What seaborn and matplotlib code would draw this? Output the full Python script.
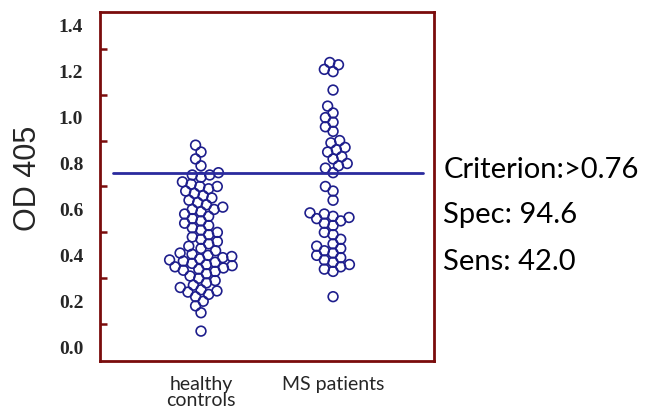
import pandas as pd
import numpy as np
import seaborn as sns
import matplotlib.pyplot as plt
from matplotlib.ticker import MultipleLocator

# values (OD 405)
healthy = [0.88, 0.85, 0.82, 0.79,
           0.76, 0.75, 0.75, 0.74, 0.72, 0.71, 0.70, 0.70, 0.69, 0.68,
           0.67, 0.66, 0.65, 0.64, 0.63, 0.62, 0.61, 0.60, 0.60, 0.59,
           0.58, 0.57, 0.56, 0.55, 0.54, 0.53, 0.52, 0.51, 0.50, 0.49,
           0.48, 0.47, 0.46, 0.45, 0.44, 0.43, 0.42, 0.41, 0.405, 0.40,
           0.395, 0.39, 0.385, 0.38, 0.375, 0.37, 0.365, 0.36, 0.355, 0.35,
           0.345, 0.34, 0.335, 0.33, 0.32, 0.31, 0.30, 0.29, 0.28, 0.27,
           0.26, 0.25, 0.245, 0.24, 0.23, 0.22, 0.20, 0.18, 0.15, 0.07]
ms = [1.24, 1.23, 1.21, 1.20, 1.12, 1.05, 1.02, 1.00, 0.98, 0.96,
      0.94, 0.90, 0.89, 0.87, 0.86, 0.85, 0.83, 0.82, 0.80, 0.79, 0.78,
      0.76, 0.70, 0.68, 0.64, 0.585, 0.58, 0.57, 0.565, 0.56, 0.55,
      0.54, 0.53, 0.50, 0.49, 0.47, 0.45, 0.44, 0.43, 0.42, 0.41,
      0.40, 0.39, 0.38, 0.37, 0.36, 0.35, 0.34, 0.33, 0.22]
groups = ['healthy\ncontrols', 'MS patients']
criterion = 0.76
stats = ['Criterion:>0.76', 'Spec: 94.6', 'Sens: 42.0']

df = pd.DataFrame({'group': [groups[0]] * len(healthy) + [groups[1]] * len(ms),
                   'od': healthy + ms})

sns.set_style('white')
red = '#7a0c0c'
blue = '#1e1e8c'

fig = plt.figure(figsize=(6.45, 4.13), dpi=100)
ax = fig.add_axes([0.155, 0.126, 0.518, 0.845])

ax.set_xlim(-0.765, 1.765)
ax.set_ylim(-0.06, 1.46)
sns.swarmplot(data=df, x='group', y='od', order=groups, ax=ax,
              size=6.2, color=blue)
ax.set_xlim(-0.765, 1.765)
ax.set_ylim(-0.06, 1.46)

# let seaborn place the swarm, then redraw the points a bit larger
# (the original chart's circles overlap slightly)
fig.canvas.draw()
for c in list(ax.collections):
    xy = c.get_offsets()
    c.remove()
    ax.scatter(xy[:, 0], xy[:, 1], s=7.0 ** 2, facecolors='none',
               edgecolors=blue, linewidths=1.2, zorder=3)

ax.plot([-0.67, 1.68], [criterion, criterion], color='#2a2a9e', lw=2, zorder=5)

ax.yaxis.set_minor_locator(MultipleLocator(0.1))
ax.set_yticks(np.arange(0, 1.41, 0.2))
ax.set_yticklabels([f'{v:.1f}' for v in np.arange(0, 1.41, 0.2)])
ax.set_ylim(-0.06, 1.46)

for s in ax.spines.values():
    s.set_color(red)
    s.set_linewidth(2)
ax.tick_params(axis='both', which='both', direction='in', color=red, width=1.8)
ax.tick_params(axis='y', which='major', length=9, pad=12)
ax.tick_params(axis='y', which='minor', length=5, left=True)
ax.tick_params(axis='x', length=8, pad=11)
ax.tick_params(axis='y', right=False)

for lab in ax.get_yticklabels():
    lab.set_family('Liberation Serif')
    lab.set_weight('bold')
    lab.set_fontsize(14)
for lab in ax.get_xticklabels():
    lab.set_family('Lato')
    lab.set_fontsize(14)
    lab.set_linespacing(0.9)

ax.set_xlabel('')
ax.set_ylabel('OD 405', family='Liberation Sans', fontsize=22)
ax.yaxis.set_label_coords(-0.17, 0.524)

for txt, yv in zip(stats, [0.772, 0.576, 0.371]):
    ax.text(1.834, yv, txt, family='Lato', fontsize=21, va='center',
            ha='left', clip_on=False, color='black')

fig.savefig('out.png', dpi=100)
